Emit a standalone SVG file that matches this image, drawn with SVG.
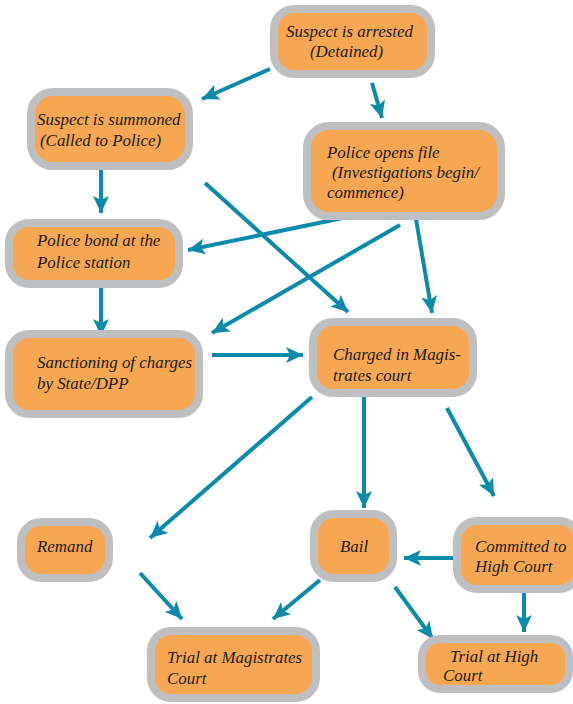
<svg xmlns="http://www.w3.org/2000/svg" width="573" height="704" viewBox="0 0 573 704">
<style>
.box{fill:#F7A752;stroke:#BEBFC1;stroke-width:8}
.t{font-family:"Liberation Serif",serif;font-style:italic;font-size:16.9px;fill:#1a1a1a}
.c{stroke:#0B8BAA;stroke-width:4;fill:none;marker-end:url(#ah)}
</style>
<defs>
<marker id="ah" markerUnits="userSpaceOnUse" markerWidth="18" markerHeight="16" refX="17" refY="8" orient="auto">
<path d="M0,0 L17,8 L0,16 L4,8 Z" fill="#0B8BAA"/>
</marker>
</defs>
<rect width="573" height="704" fill="#ffffff"/>
<g id="connectors">
<line class="c" x1="270" y1="69" x2="202" y2="99"/>
<line class="c" x1="372" y1="83" x2="382" y2="118"/>
<line class="c" x1="101" y1="165" x2="101" y2="213"/>
<line class="c" x1="205" y1="183" x2="348" y2="312"/>
<line class="c" x1="362" y1="214" x2="188" y2="250"/>
<line class="c" x1="400" y1="225" x2="212" y2="333"/>
<line class="c" x1="415" y1="213" x2="432" y2="313"/>
<line class="c" x1="101" y1="288" x2="101" y2="336"/>
<line class="c" x1="212" y1="355" x2="303" y2="355"/>
<line class="c" x1="312" y1="397" x2="150" y2="538"/>
<line class="c" x1="364" y1="397" x2="364" y2="508"/>
<line class="c" x1="447" y1="408" x2="494" y2="496"/>
<line class="c" x1="453" y1="558" x2="404" y2="558"/>
<line class="c" x1="524" y1="592" x2="524" y2="632"/>
<line class="c" x1="140" y1="573" x2="182" y2="619"/>
<line class="c" x1="320" y1="580" x2="273" y2="619"/>
<line class="c" x1="395" y1="587" x2="433" y2="639"/>
</g>
<g id="n-arrested">
<rect class="box" x="274" y="9" width="157" height="65" rx="20"/>
<text class="t" x="286" y="37">Suspect is arrested</text>
<text class="t" x="310" y="57">(Detained)</text>
</g>
<g id="n-summoned">
<rect class="box" x="31" y="92" width="158" height="74" rx="22"/>
<text class="t" x="37" y="125">Suspect is summoned</text>
<text class="t" x="40" y="146">(Called to Police)</text>
</g>
<g id="n-file">
<rect class="box" x="307" y="126" width="194" height="90" rx="22"/>
<text class="t" x="327" y="158">Police opens file</text>
<text class="t" x="332" y="178">(Investigations begin/</text>
<text class="t" x="327" y="198">commence)</text>
</g>
<g id="n-bond">
<rect class="box" x="9" y="223" width="170" height="61" rx="20"/>
<text class="t" x="37" y="246">Police bond at the</text>
<text class="t" x="37" y="268">Police station</text>
</g>
<g id="n-sanction">
<rect class="box" x="9" y="334" width="190" height="80" rx="20"/>
<text class="t" x="37" y="368">Sanctioning of charges</text>
<text class="t" x="37" y="389">by State/DPP</text>
</g>
<g id="n-charged">
<rect class="box" x="313" y="322" width="160" height="71" rx="20"/>
<text class="t" x="333" y="360">Charged in Magis-</text>
<text class="t" x="333" y="381">trates court</text>
</g>
<g id="n-remand">
<rect class="box" x="21" y="522" width="88" height="56" rx="20"/>
<text class="t" x="37" y="552">Remand</text>
</g>
<g id="n-bail">
<rect class="box" x="314" y="514" width="79" height="64" rx="20"/>
<text class="t" x="340" y="552">Bail</text>
</g>
<g id="n-committed">
<rect class="box" x="457" y="521" width="122" height="68" rx="20"/>
<text class="t" x="475" y="552">Committed to</text>
<text class="t" x="475" y="572">High Court</text>
</g>
<g id="n-trial-mag">
<rect class="box" x="151" y="631" width="165" height="67" rx="20"/>
<text class="t" x="167" y="663">Trial at Magistrates</text>
<text class="t" x="167" y="684">Court</text>
</g>
<g id="n-trial-high">
<rect class="box" x="422" y="639" width="147" height="50" rx="18"/>
<text class="t" x="450" y="662">Trial at High</text>
<text class="t" x="443" y="681">Court</text>
</g>
</svg>
